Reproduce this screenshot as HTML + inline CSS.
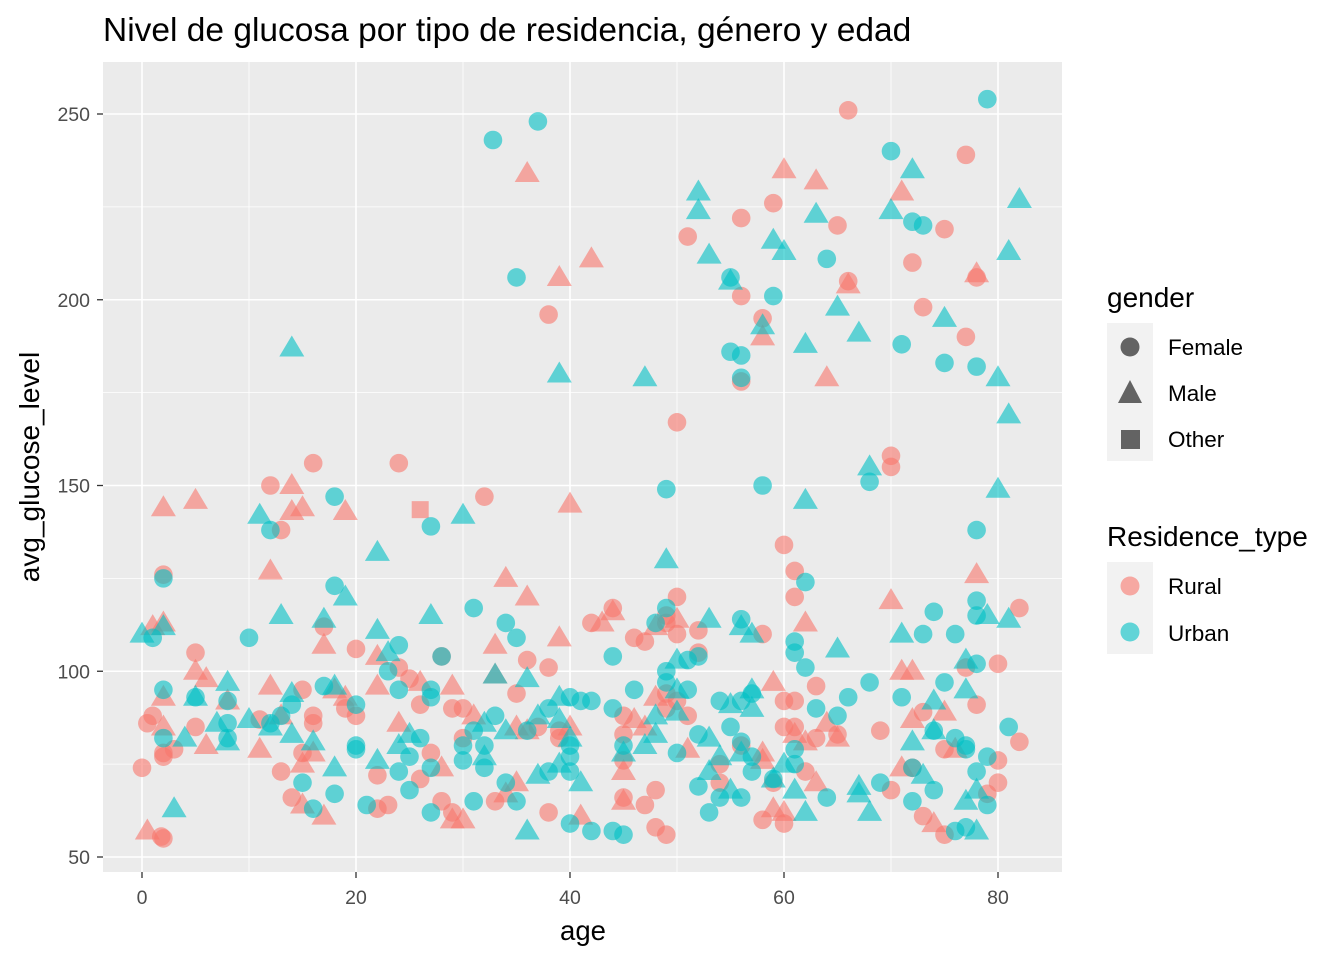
<!DOCTYPE html>
<html><head><meta charset="utf-8"><style>
body{margin:0;background:#fff;}
svg{display:block;font-family:"Liberation Sans",sans-serif;}
</style></head><body>
<svg id="chart" width="1344" height="960">
<text x="103" y="41" font-size="33.5" fill="#000">Nivel de glucosa por tipo de residencia, género y edad</text>
<rect x="103" y="62" width="959" height="810" fill="#EBEBEB"/>
<g id="grid"></g>
<g id="points"></g>
<g id="axes"></g>
<text x="583" y="940" font-size="27.5" text-anchor="middle">age</text>
<text transform="translate(39,467) rotate(-90)" font-size="28" text-anchor="middle">avg_glucose_level</text>
<g>
<text x="1107" y="307" font-size="28">gender</text>
<rect x="1107" y="323" width="46" height="138" fill="#F2F2F2"/>
<circle cx="1130" cy="347" r="9.5" fill="#636363"/>
<polygon points="1130,380 1142,403 1118,403" fill="#636363"/>
<rect x="1121" y="430" width="19" height="19" fill="#636363"/>
<text x="1168" y="355" font-size="22.5">Female</text>
<text x="1168" y="401" font-size="22.5">Male</text>
<text x="1168" y="447" font-size="22.5">Other</text>
</g>
<g>
<text x="1107" y="546" font-size="28">Residence_type</text>
<rect x="1107" y="562" width="46" height="92" fill="#F2F2F2"/>
<circle cx="1130" cy="586" r="9.5" fill="#F8766D" fill-opacity="0.6"/>
<circle cx="1130" cy="632" r="9.5" fill="#00BFC4" fill-opacity="0.6"/>
<text x="1168" y="594" font-size="22.5">Rural</text>
<text x="1168" y="641" font-size="22.5">Urban</text>
</g>
</svg>
<script>
const xTicks=[0,20,40,60,80];
const yTicks=[50,100,150,200,250];
const xMinor=[10,30,50,70];
const yMinor=[75,125,175,225];
const ruralFemale=[[38,196],[32,147],[77,239],[66,251],[65,220],[56,222],[59,226],[75,219],[51,217],[72,210],[78,206],[66,205],[56,201],[73,198],[77,190],[58,195],[56,178],[50,167],[70,158],[70,155],[60,134],[16,156],[24,156],[12,150],[13,138],[2,126],[61,127],[50,120],[61,120],[82,117],[44,117],[49,115],[49,113],[42,113],[58,110],[52,111],[50,110],[46,109],[47,108],[38,101],[52,105],[17,112],[20,106],[36,103],[80,102],[77,101],[5,105],[28,104],[24,101],[15,95],[19,90],[25,98],[26,91],[30,90],[29,90],[35,94],[37,85],[39,84],[39,82],[45,88],[45,83],[45,76],[49,90],[49,94],[50,92],[51,88],[56,80],[60,92],[61,92],[60,85],[61,85],[63,82],[63,96],[65,83],[69,84],[73,89],[75,79],[78,91],[82,81],[80,76],[80,70],[79,67],[75,56],[73,61],[72,74],[70,68],[62,73],[60,59],[58,60],[59,70],[54,75],[54,70],[48,58],[49,56],[48,68],[47,64],[45,66],[38,62],[33,65],[29,62],[30,82],[28,65],[27,78],[26,71],[23,64],[22,63],[22,72],[20,88],[16,88],[16,86],[15,78],[14,66],[13,73],[11,87],[5,85],[3,79],[2,77],[2,78],[1,88],[0.5,86],[0,74],[2,55],[1.8,55.5]];
const ruralMale=[[36,234],[39,206],[42,211],[40,145],[60,235],[63,232],[71,229],[78,207],[66,204],[58,190],[64,179],[14,150],[15,144],[14,143],[5,146],[2,144],[19,143],[12,127],[78,126],[34,125],[36,120],[70,119],[44,116],[43,113],[50,114],[48,112],[2,113],[1,112],[62,113],[39,109],[33,107],[17,107],[22,104],[71,100],[72,100],[5,100],[33,99],[6,98],[12,96],[2,93],[8,92],[18,95],[19,93],[22,96],[26,97],[29,96],[31,88],[40,85],[45,73],[47,85],[48,93],[58,76],[58,78],[59,97],[61,83],[62,81],[64,86],[65,82],[72,87],[75,89],[76,79],[74,59],[71,74],[63,70],[60,62],[59,63],[51,79],[46,87],[45,65],[41,61],[36,84],[35,85],[35,70],[34,67],[30,60],[29,60],[28,74],[24,86],[17,61],[16,78],[15,64],[15,75],[13,88],[11,79],[6,80],[2,85],[0.5,57]];
const ruralOther=[[26,143.5]];
const urbanFemale=[[32.8,243],[37,248],[35,206],[79,254],[70,240],[72,221],[73,220],[64,211],[55,206],[59,201],[71,188],[55,186],[56,185],[75,183],[78,182],[56,179],[68,151],[58,150],[49,149],[78,138],[18,147],[12,138],[27,139],[2,125],[62,124],[18,123],[78,119],[31,117],[49,117],[48,113],[34,113],[74,116],[56,114],[35,109],[10,109],[1,109],[73,110],[76,110],[61,108],[61,105],[24,107],[52,104],[51,103],[78,102],[62,101],[28,104],[44,104],[2,95],[5,93],[8,92],[8,86],[14,91],[17,96],[20,91],[23,100],[24,95],[27,95],[27,93],[33,88],[36,84],[40,93],[41,92],[42,92],[38,90],[40,80],[45,80],[44,90],[49,100],[49,97],[51,95],[52,83],[54,92],[56,92],[57,94],[55,85],[56,81],[57,77],[59,71],[61,79],[63,90],[65,88],[66,93],[68,97],[71,93],[75,97],[74,84],[76,82],[77,80],[77,79],[78,115],[81,85],[79,77],[78,73],[79,64],[77,58],[76,57],[74,68],[72,65],[72,74],[69,70],[64,66],[61,75],[57,73],[56,66],[54,66],[53,62],[52,69],[50,78],[46,95],[45,56],[44,57],[42,57],[40,59],[40,73],[40,77],[38,73],[35,65],[34,70],[32,80],[32,74],[31,65],[30,76],[30,80],[31,84],[27,62],[27,74],[26,82],[25,77],[25,68],[24,73],[21,64],[20,80],[20,79],[18,67],[16,63],[15,70],[13,88],[12,86],[8,82],[2,82]];
const urbanMale=[[52,229],[52,224],[72,235],[70,224],[82,227],[63,223],[53,212],[59,216],[60,213],[81,213],[55,205],[65,198],[75,195],[58,193],[67,191],[62,188],[80,179],[47,179],[39,180],[81,169],[68,155],[80,149],[62,146],[14,187],[11,142],[30,142],[22,132],[49,130],[19,120],[13,115],[17,114],[27,115],[81,114],[53,114],[56,112],[57,110],[0,110],[2,112],[71,110],[22,111],[65,106],[77,103],[77,95],[23,105],[8,97],[7,86],[8,81],[14,94],[18,96],[32,86],[33,99],[36,98],[34,84],[39,87],[39,93],[37,88],[40,82],[45,78],[48,88],[50,103],[50,89],[53,82],[55,91],[57,90],[57,95],[56,78],[60,75],[72,81],[74,92],[74,84],[79,115],[78,57],[77,65],[78,68],[73,72],[68,62],[67,69],[67,67],[61,68],[62,62],[59,71],[55,68],[53,73],[54,77],[50,95],[48,83],[47,80],[41,70],[39,75],[37,72],[36,57],[32,77],[25,83],[24,80],[22,76],[18,74],[16,81],[14,83],[12,85],[10,87],[4,82],[3,63],[5,93]];

const NS="http://www.w3.org/2000/svg";
const xs=a=>142+(a)*10.7;
const ys=g=>857-(g-50)*3.715;
const grid=document.getElementById('grid');
const axes=document.getElementById('axes');
function mk(tag,attrs,parent){const e=document.createElementNS(NS,tag);for(const k in attrs)e.setAttribute(k,attrs[k]);parent.appendChild(e);return e;}
xMinor.forEach(v=>{const l=mk('line',{x1:xs(v),x2:xs(v),y1:62,y2:872,stroke:'#fff','stroke-width':0.8},grid);

});
yMinor.forEach(v=>{const l=mk('line',{x1:103,x2:1062,y1:ys(v),y2:ys(v),stroke:'#fff','stroke-width':0.8},grid);

});
xTicks.forEach(v=>{const l=mk('line',{x1:xs(v),x2:xs(v),y1:62,y2:872,stroke:'#fff','stroke-width':1.6},grid);


const t=mk('line',{x1:xs(v),x2:xs(v),y1:872,y2:878,stroke:'#333','stroke-width':1.3},axes);


const tx=mk('text',{x:xs(v),y:904,'font-size':19.5,fill:'#4D4D4D','text-anchor':'middle'},axes);tx.textContent=v;

});
yTicks.forEach(v=>{const l=mk('line',{x1:103,x2:1062,y1:ys(v),y2:ys(v),stroke:'#fff','stroke-width':1.6},grid);


const t=mk('line',{x1:97,x2:103,y1:ys(v),y2:ys(v),stroke:'#333','stroke-width':1.3},axes);


const tx=mk('text',{x:90,y:ys(v)+7,'font-size':19.5,fill:'#4D4D4D','text-anchor':'end'},axes);tx.textContent=v;

});
const pts=document.getElementById('points');
function draw(arr,shape,color,name){arr.forEach(d=>{const x=xs(d[0]),y=ys(d[1]);let e;
if(shape==='c')e=mk('circle',{cx:x,cy:y,r:9.3,fill:color,'fill-opacity':0.6},pts);
else if(shape==='t')e=mk('polygon',{points:`${x},${y-12.5} ${x+12.5},${y+8.5} ${x-12.5},${y+8.5}`,fill:color,'fill-opacity':0.6},pts);
else e=mk('rect',{x:x-8.5,y:y-8.5,width:17,height:17,fill:color,'fill-opacity':0.6},pts);

});}
draw(ruralFemale,'c','#F8766D','point-rural-female');
draw(ruralMale,'t','#F8766D','point-rural-male');
draw(ruralOther,'s','#F8766D','point-rural-other');
draw(urbanFemale,'c','#00BFC4','point-urban-female');
draw(urbanMale,'t','#00BFC4','point-urban-male');
</script>
</body></html>
